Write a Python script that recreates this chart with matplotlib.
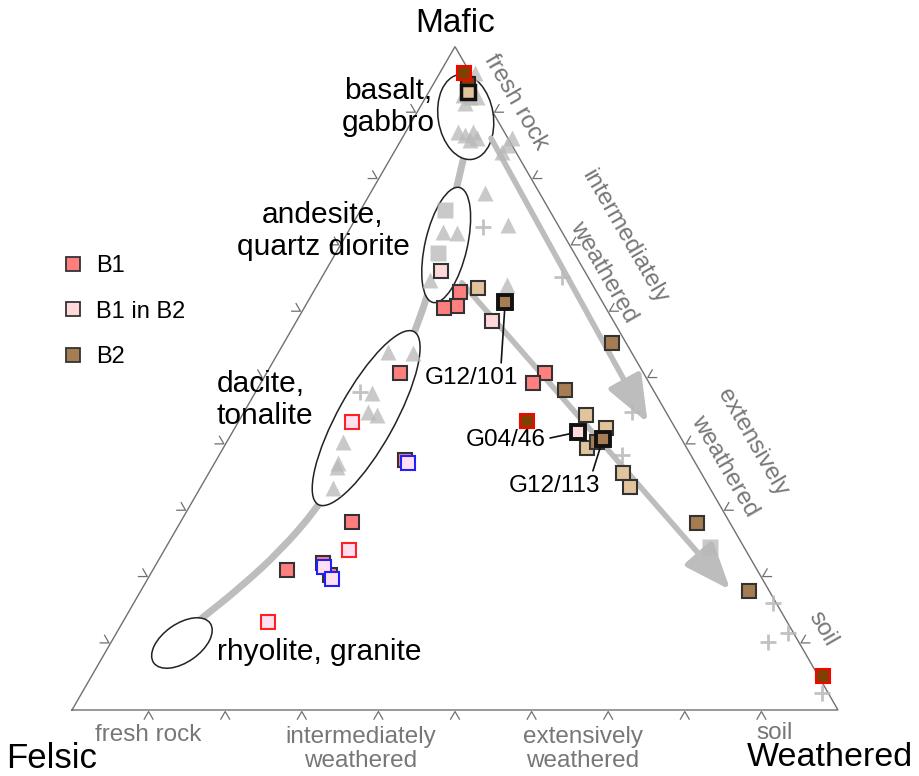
import numpy as np
import matplotlib
matplotlib.use("Agg")
import matplotlib.pyplot as plt
from matplotlib.patches import Ellipse, FancyArrowPatch, ArrowStyle, PathPatch
from matplotlib.path import Path
from matplotlib.lines import Line2D

plt.rcParams["font.family"] = ["Liberation Sans", "DejaVu Sans"]

# Compositions in percent: mafic (M) and weathered (W); felsic = 100 - M - W
# Reference data (grey)
ref_tri_m = [96.0, 92.7, 92.4, 92.4, 91.5, 87.1, 86.7, 87.1, 86.2, 85.9, 86.2, 85.2, 84.1,
             77.9, 72.1, 71.9, 73.1, 64.8, 64.1, 54.0, 53.8, 47.8, 44.9, 44.5, 40.4, 37.2,
             36.6, 33.5]
ref_tri_w = [4.6, 4.7, 5.8, 6.7, 5.6, 6.8, 8.0, 8.8, 9.8, 9.0, 14.3, 14.2, 14.1,
             15.0, 12.4, 14.3, 20.4, 14.3, 24.7, 14.3, 17.6, 15.3, 16.2, 17.6, 15.2, 16.1,
             16.3, 17.3]
ref_sq_m = [75.4, 68.9, 24.6]
ref_sq_w = [11.0, 13.3, 71.0]
ref_plus_m = [72.8, 65.3, 47.9, 44.9, 38.4, 16.1, 11.6, 10.3, 2.6]
ref_plus_w = [17.3, 31.3, 13.6, 50.7, 52.6, 83.5, 87.7, 85.7, 96.6]

# Samples
b1_m = [63.0, 60.9, 60.6, 50.8, 50.8, 49.3, 28.3, 21.1, 22.2, 20.3, 37.7]
b1_w = [19.2, 19.8, 18.3, 17.4, 36.3, 35.5, 22.4, 17.5, 21.7, 23.5, 24.6]
b1_blue_m = [37.2, 21.6, 19.7]
b1_blue_w = [25.3, 22.1, 24.1]
b1_red_m = [43.4, 24.1, 13.3]
b1_red_w = [14.9, 24.1, 18.9]
b1in2_m = [66.2, 58.6]
b1in2_w = [15.1, 25.5]
tan_m = [63.6, 44.5, 42.5, 39.5, 35.7, 33.6]
tan_w = [21.2, 44.9, 48.5, 47.5, 54.1, 56.0]
tan_top = (93.2, 5.1)
b2_m = [55.3, 48.2, 40.4, 28.2, 17.9]
b2_w = [42.8, 40.3, 48.3, 67.5, 79.4]
dark_m = [94.4]
dark_w = [4.5]
dark_red_m = [96.0, 43.6, 5.1]
dark_red_w = [3.2, 37.6, 95.5]

# Labelled samples
g12_101 = (61.5, 25.8)
g04_46 = (41.9, 45.1)
g12_113 = (40.8, 48.9)

# Magmatic trend and weathering trends
trend_m = [13.6, 18.4, 24.0, 30.4, 37.7, 46.0, 53.5, 59.1, 64.8, 72.4, 77.6, 82.2, 84.4]
trend_w = [9.9, 12.7, 15.2, 16.8, 17.4, 17.2, 16.7, 15.9, 14.6, 12.5, 11.2, 9.8, 9.2]
arrow1 = [(86.2, 11.6), (43.3, 53.5)]
arrow2 = [(64.4, 18.7), (18.1, 76.9)]

# Rock fields: centre (M, W), width, height, angle (cartesian units / degrees)
fields = [
    ((89.4, 6.7), 0.112, 0.072, 99),
    ((70.1, 13.8), 0.154, 0.055, 77),
    ((44.0, 16.4), 0.258, 0.074, 61),
    ((10.1, 9.3), 0.090, 0.050, 35),
]

edge_ticks = [0.1, 0.2, 0.3, 0.4, 0.5, 0.6, 0.7, 0.8, 0.9]

H = np.sqrt(3) / 2


def tern(m, w):
    m = np.asarray(m, float) / 100.0
    w = np.asarray(w, float) / 100.0
    return w + m / 2, m * H


def P(px, py):
    # layout helper: figure pixel position -> axes units
    return (px - 72) / 766.0, (710 - py) / 766.0


fig = plt.figure(figsize=(9.2, 7.76), dpi=100)
ax = fig.add_axes([0, 0, 1, 1])
ax.set_xlim(-72 / 766, (920 - 72) / 766)
ax.set_ylim((710 - 776) / 766, 710 / 766)
ax.axis("off")

edge_col = "#707070"
ax.plot([0, 1, 0.5, 0], [0, 0, H, 0], color=edge_col, lw=1.0, zorder=1,
        solid_joinstyle="miter")

# chevron ticks on the three edges
edges = [((0, 0), (1, 0), -90), ((0, 0), (0.5, H), 150), ((1, 0), (0.5, H), 30)]
L = 0.0115
for a, b, nang in edges:
    for t in edge_ticks:
        p = np.array(a) + t * (np.array(b) - np.array(a))
        n = np.array([np.cos(np.radians(nang)), np.sin(np.radians(nang))])
        apex = p + 0.002 * n
        e1 = apex + L * np.array([np.cos(np.radians(nang + 30)), np.sin(np.radians(nang + 30))])
        e2 = apex + L * np.array([np.cos(np.radians(nang - 30)), np.sin(np.radians(nang - 30))])
        ax.plot([e1[0], apex[0], e2[0]], [e1[1], apex[1], e2[1]], color=edge_col, lw=0.9, zorder=1)

grey = "#BDBDBD"
# magmatic trend, drawn as a smooth quadratic spline through the trend points
tx, ty = tern(trend_m, trend_w)
pts = np.column_stack([tx, ty])
verts = [pts[0], (pts[0] + pts[1]) / 2]
codes = [Path.MOVETO, Path.LINETO]
for i in range(1, len(pts) - 1):
    verts += [pts[i], (pts[i] + pts[i + 1]) / 2]
    codes += [Path.CURVE3, Path.CURVE3]
verts.append(pts[-1])
codes.append(Path.LINETO)
ax.add_patch(PathPatch(Path(verts, codes), fill=False, edgecolor=grey, lw=5,
                       capstyle="butt", zorder=1.5))

# rock fields
for (cm, cw), wd, ht, ang in fields:
    cx, cy = tern(cm, cw)
    ax.add_patch(Ellipse((cx, cy), wd, ht, angle=ang, facecolor="white",
                         edgecolor="#222222", lw=1.1, zorder=2))

# weathering arrows
for (m0, w0), (m1, w1) in (arrow1, arrow2):
    p0 = tern(m0, w0)
    p1 = tern(m1, w1)
    ax.add_patch(FancyArrowPatch(p0, p1, arrowstyle=ArrowStyle("-|>", head_length=1.9, head_width=0.75),
                                 mutation_scale=15, lw=4, color=grey, shrinkA=0, shrinkB=0,
                                 zorder=2.5))

# reference data
x, y = tern(ref_tri_m, ref_tri_w)
ax.plot(x, y, ls="none", marker="^", ms=11, mfc="#B8B8B8", mec="none", alpha=0.75, zorder=3)
x, y = tern(ref_sq_m, ref_sq_w)
ax.plot(x, y, ls="none", marker="s", ms=11, mfc="#B8B8B8", mec="none", alpha=0.75, zorder=3)
x, y = tern(ref_plus_m, ref_plus_w)
ax.plot(x, y, ls="none", marker="+", ms=12, mew=2, color="#B8B8B8", alpha=0.85, zorder=3)

c_b1 = "#FF7F7F"
c_b1in2 = "#FFD9D9"
c_tan = "#E2C49C"
c_b2 = "#A67C52"
c_dark = "#804000"
c_lav = "#FFE0F0"
ms = 10.5


def sq(m, w, fc, ec, lw=1.5, z=4, size=ms):
    x, y = tern(m, w)
    ax.plot(np.atleast_1d(x), np.atleast_1d(y), ls="none", marker="s", ms=size,
            mfc=fc, mec=ec, mew=lw, zorder=z)


sq(dark_m, dark_w, c_dark, "#222222")
sq(b1_m, b1_w, c_b1, "#333333")
sq(b1_blue_m, b1_blue_w, c_lav, "#2020FF", z=4.2)
sq(b1_red_m, b1_red_w, c_lav, "#FF2020", z=4.2)
sq(b1in2_m, b1in2_w, c_b1in2, "#333333")
sq(tan_m, tan_w, c_tan, "#333333")
sq(b2_m, b2_w, c_b2, "#333333", z=4.1)
sq([tan_top[0]], [tan_top[1]], c_tan, "#111111", lw=2.5, z=4.3)
sq(dark_red_m, dark_red_w, c_dark, "#FF0000", z=4.4)
sq([g12_101[0]], [g12_101[1]], c_b2, "#111111", lw=2.8, z=4.5)
sq([g04_46[0]], [g04_46[1]], c_b1in2, "#111111", lw=2.8, z=4.5)
sq([g12_113[0]], [g12_113[1]], c_b2, "#111111", lw=2.8, z=4.6)

# sample labels
ann_fs = 17.5
for name, (m, w), tpos, rel in (("G12/101", g12_101, P(471, 378), (0.82, 1.0)),
                                ("G04/46", g04_46, P(506, 440), (1.0, 0.55)),
                                ("G12/113", g12_113, P(555, 486), (0.9, 1.0))):
    ax.annotate(name, xy=tern(m, w), xytext=tpos, ha="center", va="center", fontsize=ann_fs,
                arrowprops=dict(arrowstyle="-", color="#111111", lw=1.2, relpos=rel,
                                shrinkA=1, shrinkB=6), zorder=5)

# rock names
rk = 21.5
ax.text(*P(388, 107), "basalt,\ngabbro", fontsize=rk, ha="center", va="center",
        linespacing=1.2, zorder=5)
ax.text(*P(323, 231), "andesite,\nquartz diorite", fontsize=rk, ha="center", va="center",
        linespacing=1.2, zorder=5)
ax.text(*P(217, 400), "dacite,\ntonalite", fontsize=rk, ha="left", va="center",
        linespacing=1.2, zorder=5)
ax.text(*P(217, 652), "rhyolite, granite", fontsize=rk, ha="left", va="center", zorder=5)

# corner labels
ax.text(*P(455, 24), "Mafic", fontsize=24, ha="center", va="center")
ax.text(*P(6, 758), "Felsic", fontsize=25, ha="left", va="center")
ax.text(*P(913, 758), "Weathered", fontsize=24.5, ha="right", va="center")

# weathering stage labels
gc = "#777777"
gfs = 17.5
for s, (px, py) in (("fresh rock", (148, 735)), ("intermediately\nweathered", (361, 749)),
                    ("extensively\nweathered", (583, 749)), ("soil", (775, 733))):
    ax.text(*P(px, py), s, fontsize=gfs, color=gc, ha="center", va="center", linespacing=1.1)
for s, (px, py) in (("fresh rock", (516, 102)), ("intermediately", (625, 237)),
                    ("weathered", (604, 272)), ("extensively", (753, 442)),
                    ("weathered", (725, 466)), ("soil", (823, 629))):
    ax.text(*P(px, py), s, fontsize=gfs, color=gc, ha="center", va="center", rotation=-60,
            rotation_mode="anchor")

# legend
handles = [Line2D([], [], ls="none", marker="s", ms=10.5, mfc=c, mec="#333333", mew=1.3)
           for c in (c_b1, c_b1in2, c_b2)]
ax.legend(handles, ["B1", "B1 in B2", "B2"], loc="upper left", bbox_to_anchor=(61 / 920, 1 - 255 / 776),
          frameon=False, fontsize=17, labelspacing=1.0, handlelength=1.0, handletextpad=0.5,
          borderpad=0, borderaxespad=0)

fig.savefig("out.png", dpi=100)
